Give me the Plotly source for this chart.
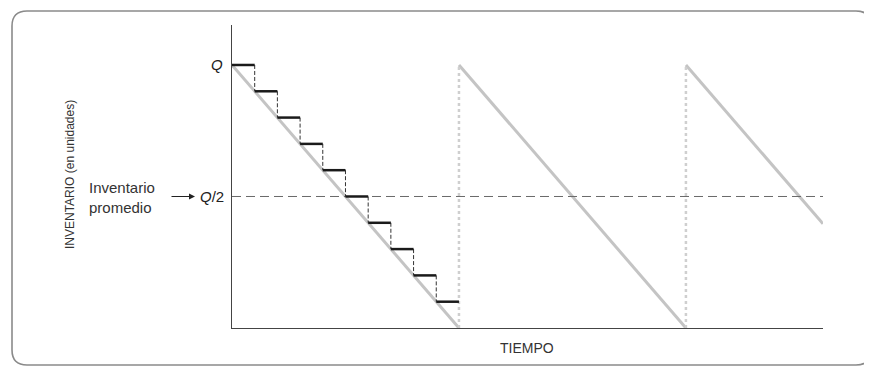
import plotly.graph_objects as go

# ---- data ----
Q = 1.0
order_times = [0.0, 1.0, 2.0]          # replenishment instants (cycle units)
cycle_end_times = [1.0, 2.0, 2.604]    # end of each drawn decline
cycle_end_levels = [0.0, 0.0, 0.396]   # inventory at end of each drawn decline
step_starts = [0.0, 0.1, 0.2, 0.3, 0.4, 0.5, 0.6, 0.7, 0.8, 0.9]
step_levels = [1.0, 0.9, 0.8, 0.7, 0.6, 0.5, 0.4, 0.3, 0.2, 0.1]
step_width = 0.1
avg_level = 0.5
x_max = 2.604
y_max = 1.152

fig = go.Figure()

# gray declining sawtooth lines
for t0, t1, y1 in zip(order_times, cycle_end_times, cycle_end_levels):
    fig.add_trace(go.Scatter(x=[t0, t1], y=[Q, y1], mode="lines",
                             line=dict(color="#c4c4c4", width=3), hoverinfo="skip"))

# dotted replenishment verticals
for t in order_times[1:]:
    fig.add_trace(go.Scatter(x=[t, t], y=[0, Q], mode="lines",
                             line=dict(color="#cfcfcf", width=2.5, dash="dot"), hoverinfo="skip"))

# average inventory dashed line
fig.add_trace(go.Scatter(x=[0, x_max], y=[avg_level, avg_level], mode="lines",
                         line=dict(color="#6a6a6a", width=1, dash="9px,5px"), hoverinfo="skip"))

# step function: dashed drops
for i, (s, lv) in enumerate(zip(step_starts, step_levels)):
    if i + 1 < len(step_levels):
        nxt = step_levels[i + 1]
        fig.add_trace(go.Scatter(x=[s + step_width, s + step_width], y=[lv, nxt], mode="lines",
                                 line=dict(color="#333333", width=1, dash="4px,2px"), hoverinfo="skip"))

# step function: solid horizontals
for s, lv in zip(step_starts, step_levels):
    fig.add_trace(go.Scatter(x=[s, s + step_width], y=[lv, lv], mode="lines",
                             line=dict(color="#1a1a1a", width=2.5), hoverinfo="skip"))

# ---- layout (page body has an 8px margin, so the figure is shifted by it) ----
OFF = 8
W, H = 872 - OFF, 367 - OFF
L, T = 232 - OFF, 25 - OFF
B = H - (328 - OFF)
R = W - (823 - OFF)
pw, ph = W - L - R, H - T - B

def px(x):
    return (x - OFF - L) / pw

def py(y):
    return (H - B - (y - OFF)) / ph

# rounded border path in paper coords (reference pixel positions)
x0, x1, y0, y1, r = 12, 871, 11, 365, 15
path = (f"M {px(x0 + r)},{py(y0)} L {px(x1 - r)},{py(y0)} "
        f"Q {px(x1)},{py(y0)} {px(x1)},{py(y0 + r)} "
        f"L {px(x1)},{py(y1 - r)} Q {px(x1)},{py(y1)} {px(x1 - r)},{py(y1)} "
        f"L {px(x0 + r)},{py(y1)} Q {px(x0)},{py(y1)} {px(x0)},{py(y1 - r)} "
        f"L {px(x0)},{py(y0 + r)} Q {px(x0)},{py(y0)} {px(x0 + r)},{py(y0)} Z")

fig.update_layout(
    width=W, height=H,
    margin=dict(l=L, r=R, t=T, b=B),
    paper_bgcolor="white", plot_bgcolor="white",
    showlegend=False,
    font=dict(family="Liberation Sans, Arial, sans-serif", color="#333333", size=13),
    xaxis=dict(range=[0, x_max], showgrid=False, zeroline=False, showticklabels=False,
               ticks="", showline=True, linecolor="#444444", linewidth=1.2, fixedrange=True),
    yaxis=dict(range=[0, y_max], showgrid=False, zeroline=False, showticklabels=False,
               ticks="", showline=True, linecolor="#444444", linewidth=1.2, fixedrange=True),
    shapes=[dict(type="path", xref="paper", yref="paper", path=path,
                 line=dict(color="#8a8a8a", width=1.6), layer="below")],
    annotations=[
        dict(text="<i>Q</i>", xref="paper", yref="y", x=px(225), y=Q, xanchor="right",
             yanchor="middle", showarrow=False, font=dict(size=15, color="#222222")),
        dict(text="<i>Q</i>/2", xref="paper", yref="y", x=px(226), y=avg_level, xanchor="right",
             yanchor="middle", showarrow=False, font=dict(size=15, color="#222222")),
        dict(text="", xref="paper", yref="y", x=px(195), y=avg_level, ax=-25, ay=0,
             showarrow=True, arrowhead=2, arrowsize=1, arrowwidth=1.2, arrowcolor="#222222",
             standoff=0),
        dict(text="Inventario<br>promedio", xref="paper", yref="paper", x=px(87), y=py(197),
             xanchor="left", yanchor="middle", align="left", showarrow=False,
             font=dict(size=15, color="#333333")),
        dict(text="INVENTARIO (en unidades)", xref="paper", yref="paper", x=px(70), y=py(175),
             xanchor="center", yanchor="middle", textangle=-90, showarrow=False,
             font=dict(size=12, color="#333333")),
        dict(text="TIEMPO", xref="paper", yref="paper", x=px(527), y=py(348),
             xanchor="center", yanchor="middle", showarrow=False,
             font=dict(size=14, color="#333333")),
    ],
)

fig.write_html("out.html")
